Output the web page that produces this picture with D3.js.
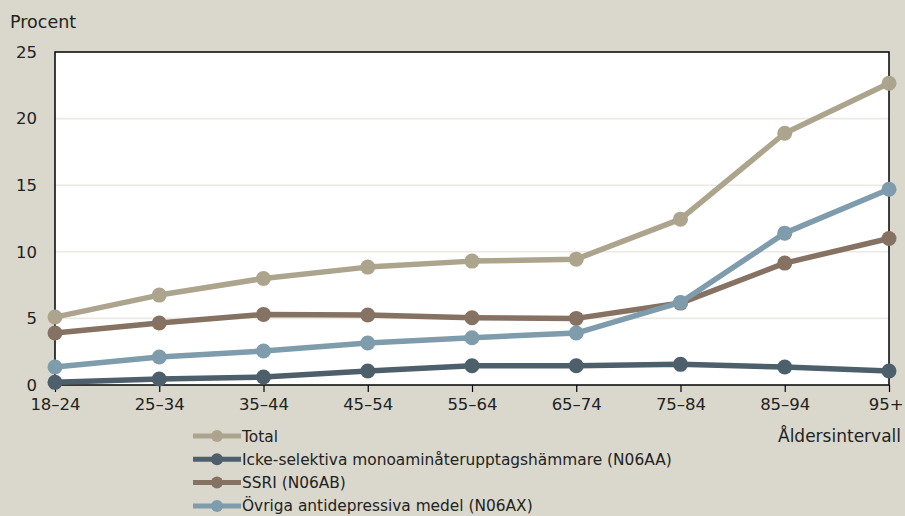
<!DOCTYPE html>
<html><head><meta charset="utf-8">
<script src="https://cdn.jsdelivr.net/npm/d3@7"></script>
<style>body{margin:0;background:#dad8cd;} svg{display:block;}</style>
</head><body>
<svg id="c" width="905" height="516"></svg>
<script>
const categories = ["18–24","25–34","35–44","45–54","55–64","65–74","75–84","85–94","95+"];
const total  = [5.1, 6.75, 8.0, 8.85, 9.3, 9.45, 12.45, 18.9, 22.65];
const icke   = [0.2, 0.45, 0.6, 1.05, 1.45, 1.45, 1.55, 1.35, 1.05];
const ssri   = [3.9, 4.65, 5.3, 5.25, 5.05, 5.0, 6.15, 9.15, 11.0];
const ovriga = [1.35, 2.1, 2.55, 3.15, 3.55, 3.9, 6.2, 11.4, 14.7];
const yTicks = [0,5,10,15,20,25];
const seriesNames = ["Total","Icke-selektiva monoaminåterupptagshämmare (N06AA)","SSRI (N06AB)","Övriga antidepressiva medel (N06AX)"];
const seriesColors = ["#aca48d","#4e5f6c","#857262","#7e9cac"];
const seriesData = [total, icke, ssri, ovriga];

const svg = d3.select("#c");
const font = "'DejaVu Sans', sans-serif";
const L=55, R=889, T=52, B=385;
const x = d3.scalePoint().domain(categories).range([L,R]);
const y = d3.scaleLinear().domain([0,25]).range([B,T]);

svg.append("rect").attr("x",L).attr("y",T).attr("width",R-L).attr("height",B-T).attr("fill","#fff");
svg.append("g").selectAll("line").data(yTicks.slice(1,-1)).join("line")
  .attr("x1",L).attr("x2",R).attr("y1",d=>y(d)).attr("y2",d=>y(d))
  .attr("stroke","#ebe9e2").attr("stroke-width",1.6);

svg.append("rect").attr("x",L).attr("y",T).attr("width",R-L).attr("height",B-T)
  .attr("fill","none").attr("stroke","#000").attr("stroke-width",1.5);

const yAxis = svg.append("g").attr("transform",`translate(${L},0)`)
  .call(d3.axisLeft(y).tickValues(yTicks).tickSize(0).tickPadding(18));
yAxis.select(".domain").remove();
yAxis.selectAll("text").attr("font-family",font).attr("font-size",16.5).attr("fill","#222");

const xAxis = svg.append("g").attr("transform",`translate(0,${B})`)
  .call(d3.axisBottom(x).tickSize(7).tickPadding(6));
xAxis.select(".domain").remove();
xAxis.selectAll("line").attr("stroke","#000").attr("stroke-width",1.2);
xAxis.selectAll("text").attr("font-family",font).attr("font-size",16.5).attr("fill","#222");
xAxis.selectAll("text").filter(d=>d==="95+").attr("text-anchor","end").attr("x",14);

svg.append("text").attr("x",10).attr("y",28).text("Procent")
  .attr("font-family",font).attr("font-size",17.5).attr("fill","#222");
svg.append("text").attr("x",901).attr("y",442).attr("text-anchor","end").text("Åldersintervall")
  .attr("font-family",font).attr("font-size",17).attr("fill","#222");

const line = d3.line().x((d,i)=>x(categories[i])).y(d=>y(d));
seriesData.forEach((s,k)=>{
  const g = svg.append("g");
  g.append("path").datum(s).attr("d",line).attr("fill","none")
    .attr("stroke",seriesColors[k]).attr("stroke-width",5.5).attr("stroke-linejoin","round");
  g.selectAll("circle").data(s).join("circle")
    .attr("cx",(d,i)=>x(categories[i])).attr("cy",d=>y(d)).attr("r",7.5).attr("fill",seriesColors[k]);
});

const lg = svg.append("g");
seriesNames.forEach((n,k)=>{
  const cy = 436 + k*23.3;
  lg.append("line").attr("x1",193).attr("x2",241).attr("y1",cy).attr("y2",cy)
    .attr("stroke",seriesColors[k]).attr("stroke-width",5);
  lg.append("circle").attr("cx",217).attr("cy",cy).attr("r",6).attr("fill",seriesColors[k]);
  lg.append("text").attr("x",242).attr("y",cy+5.5).text(n)
    .attr("font-family",font).attr("font-size",15.4).attr("fill","#222");
});
</script>
</body></html>
